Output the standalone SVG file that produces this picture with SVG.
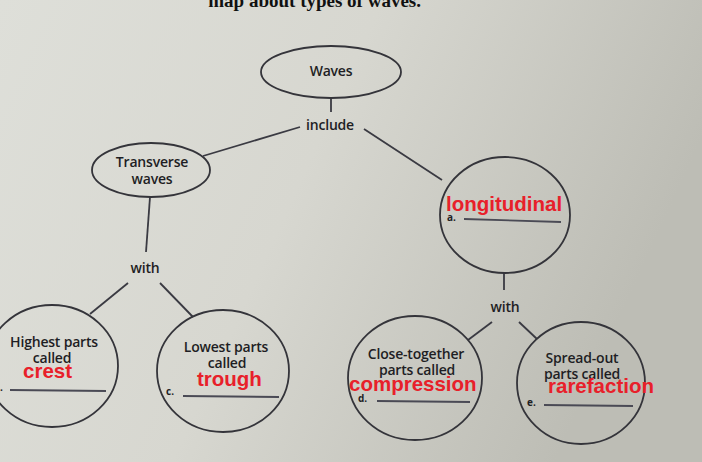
<svg xmlns="http://www.w3.org/2000/svg" width="702" height="462" viewBox="0 0 702 462">
<defs>
<linearGradient id="bg" x1="0" y1="0" x2="1" y2="0.3">
<stop offset="0" stop-color="#dedfd9"/>
<stop offset="0.5" stop-color="#d7d7d0"/>
<stop offset="1" stop-color="#bdbdb5"/>
</linearGradient>
<style>
.n{fill:none;stroke:#34343a;stroke-width:1.8}
.c{fill:none;stroke:#3a3a42;stroke-width:1.8}
.t{font-family:"Open Sans","DejaVu Sans",sans-serif;font-size:14px;font-weight:600;fill:#1e1e24;text-anchor:middle;letter-spacing:-0.2px}
.r{font-family:"Liberation Sans",Arial,sans-serif;font-size:20.5px;font-weight:bold;fill:#e8202a}
.u{stroke:#4a4a55;stroke-width:1.8;fill:none}
.s{font-family:"Open Sans","DejaVu Sans",sans-serif;font-size:10px;font-weight:bold;fill:#1e1e24}
</style>
</defs>
<rect width="702" height="462" fill="url(#bg)"/>
<text x="421" y="7" font-family="Liberation Serif,serif" font-weight="bold" font-size="19" text-anchor="end" fill="#111">map about types of waves.</text>
<g id="connectors">
<path class="c" d="M331 97V112"/>
<path class="c" d="M300 127L203 156"/>
<path class="c" d="M364 129L442 180"/>
<path class="c" d="M150 197L146 252"/>
<path class="c" d="M128 283L90 314"/>
<path class="c" d="M160 283L193 317"/>
<path class="c" d="M504 273V290"/>
<path class="c" d="M492 322L468 340"/>
<path class="c" d="M519 322L537 339"/>
<text class="t" x="330" y="130">include</text>
<text class="t" x="145" y="273">with</text>
<text class="t" x="505" y="312">with</text>
</g>
<g id="waves">
<ellipse class="n" cx="331" cy="72" rx="70" ry="26"/>
<text class="t" x="331" y="76">Waves</text>
</g>
<g id="transverse">
<ellipse class="n" cx="151" cy="170" rx="59" ry="27"/>
<text class="t" x="152" y="167">Transverse</text>
<text class="t" x="152" y="184">waves</text>
</g>
<g id="longitudinal">
<ellipse class="n" cx="505" cy="215" rx="65" ry="58"/>
<text class="r" x="446" y="211">longitudinal</text>
<text class="s" x="447" y="221">a.</text>
<path class="u" d="M464 219L561 222"/>
</g>
<g id="crest">
<ellipse class="n" cx="52" cy="366" rx="66" ry="61"/>
<text class="t" x="54" y="347">Highest parts</text>
<text class="t" x="52" y="363">called</text>
<text class="r" x="23" y="378">crest</text>
<text class="s" x="0" y="391">.</text>
<path class="u" d="M10 390L106 391"/>
</g>
<g id="trough">
<ellipse class="n" cx="223" cy="371" rx="66" ry="61"/>
<text class="t" x="226" y="352">Lowest parts</text>
<text class="t" x="227" y="368">called</text>
<text class="r" x="197" y="386">trough</text>
<text class="s" x="166" y="395">c.</text>
<path class="u" d="M183 396L279 397"/>
</g>
<g id="compression">
<ellipse class="n" cx="415" cy="378" rx="67" ry="62"/>
<text class="t" x="416" y="359">Close-together</text>
<text class="t" x="417" y="375">parts called</text>
<text class="r" x="349" y="391">compression</text>
<text class="s" x="358" y="402">d.</text>
<path class="u" d="M377 401L470 402"/>
</g>
<g id="rarefaction">
<ellipse class="n" cx="581" cy="383" rx="64" ry="61"/>
<text class="t" x="582" y="363">Spread-out</text>
<text class="t" x="582" y="379">parts called</text>
<text class="r" x="548" y="393">rarefaction</text>
<text class="s" x="527" y="406">e.</text>
<path class="u" d="M544 405L633 406"/>
</g>
</svg>
